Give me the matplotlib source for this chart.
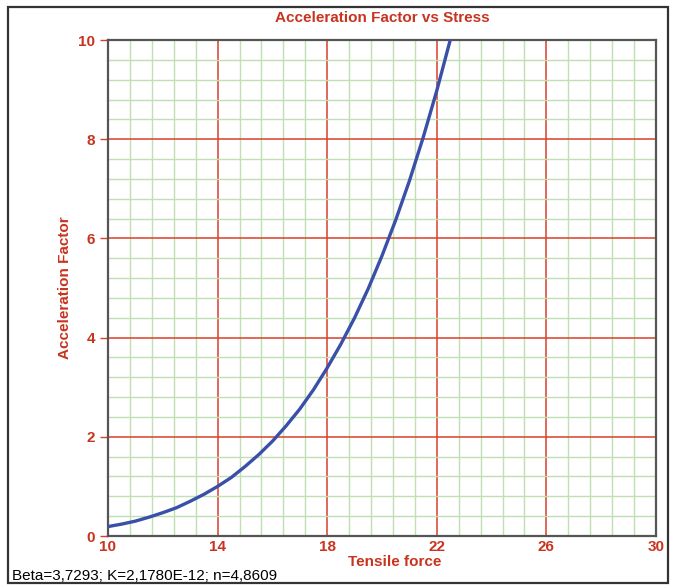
import matplotlib
matplotlib.use("Agg")
import matplotlib.pyplot as plt
import numpy as np
from matplotlib.patches import Rectangle
from matplotlib.ticker import FixedLocator

# values
force = [10, 10.5, 11, 11.5, 12, 12.5, 13, 13.5, 14, 14.5, 15, 15.5, 16, 16.5,
         17, 17.5, 18, 18.5, 19, 19.5, 20, 20.5, 21, 21.5, 22, 22.5, 23]
accel = [0.19, 0.24, 0.30, 0.38, 0.47, 0.57, 0.70, 0.84, 1.00, 1.18, 1.40, 1.64,
         1.91, 2.22, 2.56, 2.95, 3.39, 3.87, 4.40, 4.99, 5.65, 6.37, 7.16, 8.03,
         8.98, 10.02, 11.1]
x_ticks = [10, 14, 18, 22, 26, 30]
y_ticks = [0, 2, 4, 6, 8, 10]

title = "Acceleration Factor vs Stress"
x_label = "Tensile force"
y_label = "Acceleration Factor"
footnote = "Beta=3,7293; K=2,1780E-12; n=4,8609"

red = "#d8402a"
txt_red = "#c8341f"

plt.rcParams["font.family"] = ["Liberation Sans", "DejaVu Sans"]

fig = plt.figure(figsize=(6.77, 5.86), dpi=100)
ax = fig.add_axes([108 / 677, 1 - 536 / 586, 548 / 677, 496 / 586])

ax.set_xlim(10, 30)
ax.set_ylim(0, 10)
ax.set_xticks(x_ticks)
ax.set_yticks(y_ticks)
# five minor cells per major cell
ax.xaxis.set_minor_locator(FixedLocator(np.arange(10, 30.01, 0.8)))
ax.yaxis.set_minor_locator(FixedLocator(np.arange(0, 10.01, 0.4)))

ax.grid(which="minor", color="#bfe0b0", linewidth=1.0)
ax.grid(which="major", color=red, linewidth=1.1)
ax.set_axisbelow(True)

ax.plot(force, accel, color="#3a4fa8", linewidth=2.4, zorder=3)

ax.tick_params(which="minor", length=0)
ax.tick_params(which="major", colors=red, labelcolor=txt_red, labelsize=11,
               length=6, width=1.0)
ax.tick_params(axis="x", length=0, pad=3)
for lbl in ax.get_xticklabels() + ax.get_yticklabels():
    lbl.set_fontweight("bold")
for s in ax.spines.values():
    s.set_color("#555555")
    s.set_linewidth(1.6)

ax.set_xlabel(x_label, color=txt_red, fontsize=11, fontweight="bold")
ax.xaxis.set_label_coords(395 / 677, 1 - 555 / 586, transform=fig.transFigure)
ax.set_ylabel(y_label, color=txt_red, fontsize=11, fontweight="bold", labelpad=4)
fig.text(382 / 677, 1 - 18 / 586, title, color=txt_red, fontsize=11,
         fontweight="bold", ha="center", va="center")
fig.text(12 / 677, 1 - 576 / 586, footnote, color="black", fontsize=11,
         ha="left", va="center")

# outer frame of the picture
fig.patches.append(Rectangle((8 / 677, 1 - 583 / 586), 660 / 677, 576 / 586,
                             transform=fig.transFigure, fill=False,
                             edgecolor="#333333", linewidth=1.6))

fig.savefig("out.png", dpi=100)
